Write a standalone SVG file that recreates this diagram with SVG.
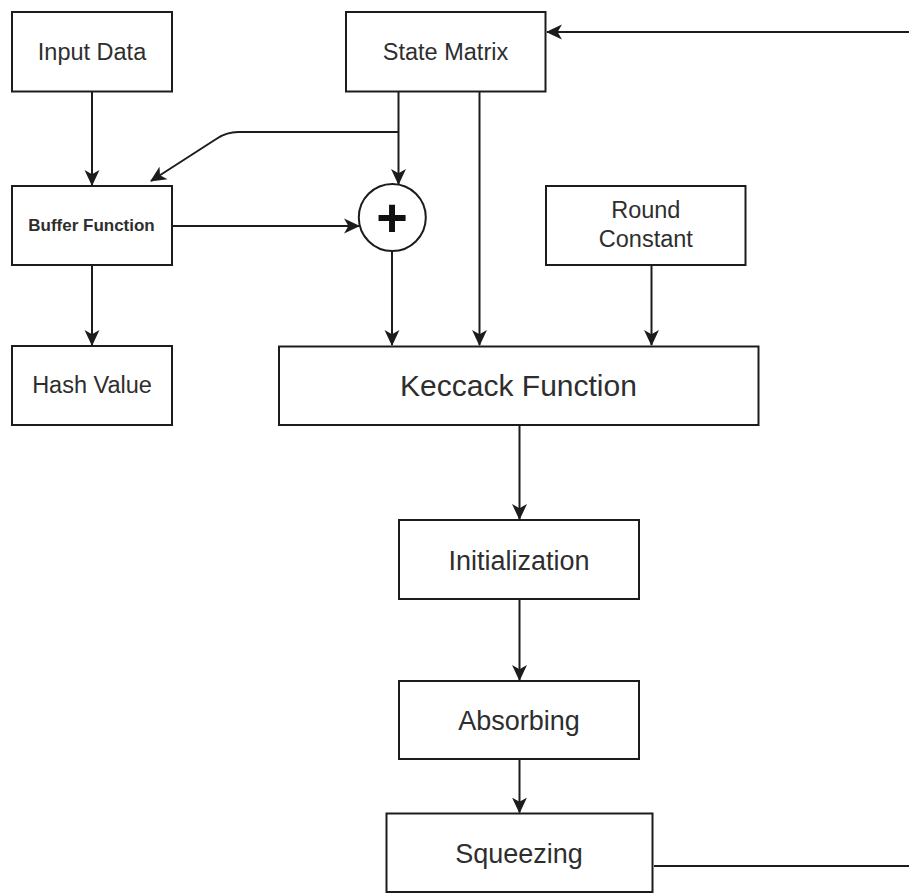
<svg xmlns="http://www.w3.org/2000/svg" width="909" height="894" viewBox="0 0 909 894">
  <style>
    .box { fill: #ffffff; stroke: #1c1c1c; stroke-width: 2; }
    .lbl { font-family: "Liberation Sans", Arial, sans-serif; fill: #2e2e2e; text-anchor: middle; }
    .s { font-size: 23.5px; }
    .m { font-size: 27px; }
    .l { font-size: 30px; }
    .b { font-size: 17px; font-weight: bold; }
    .edge { fill: none; stroke: #1c1c1c; stroke-width: 2; marker-end: url(#arrow); }
  </style>
  <defs>
    <marker id="arrow" markerUnits="userSpaceOnUse" markerWidth="16" markerHeight="16" viewBox="0 0 15 14" refX="14" refY="7" orient="auto">
      <path d="M0,0 L15,7 L0,14 L4,7 z" fill="#1c1c1c"/>
    </marker>
  </defs>
  <rect width="909" height="894" fill="#ffffff"/>

  <!-- connectors -->
  <g id="connectors">
    <path class="edge" d="M92,92 V185"/>
    <path class="edge" d="M92,266 V345"/>
    <path class="edge" d="M398.5,92 V184"/>
    <path class="edge" d="M398.5,132 H238 Q227,132 217,138.5 L151,181"/>
    <path class="edge" d="M173,226 H359"/>
    <path class="edge" d="M392,251 V345"/>
    <path class="edge" d="M479.5,92 V345"/>
    <path class="edge" d="M651.5,266 V345"/>
    <path class="edge" d="M519.5,426 V519"/>
    <path class="edge" d="M519.5,600 V680"/>
    <path class="edge" d="M519.5,760 V812.5"/>
    <path class="edge" d="M654,866 H916 V32 H547"/>
  </g>

  <g id="input-data">
    <rect class="box" x="12" y="12" width="160" height="79.5"/>
    <text class="lbl s" x="92" y="60">Input Data</text>
  </g>

  <g id="state-matrix">
    <rect class="box" x="346" y="12" width="199.5" height="79.5"/>
    <text class="lbl s" x="445.5" y="60">State Matrix</text>
  </g>

  <g id="buffer-function">
    <rect class="box" x="12" y="186" width="160" height="79"/>
    <text class="lbl b" x="91.5" y="231">Buffer Function</text>
  </g>

  <g id="xor">
    <circle class="box" cx="392.3" cy="217.5" r="33.5"/>
    <text class="lbl" x="392" y="236" style="font-size:54px;font-weight:bold;fill:#111">+</text>
  </g>

  <g id="round-constant">
    <rect class="box" x="546" y="186" width="199.5" height="79"/>
    <text class="lbl s" x="645.8" y="218">Round</text>
    <text class="lbl s" x="645.8" y="246.5">Constant</text>
  </g>

  <g id="hash-value">
    <rect class="box" x="12" y="346" width="160" height="79"/>
    <text class="lbl s" x="92" y="393">Hash Value</text>
  </g>

  <g id="keccack-function">
    <rect class="box" x="279" y="346.5" width="479.5" height="78.5"/>
    <text class="lbl l" x="518.5" y="395.5">Keccack Function</text>
  </g>

  <g id="initialization">
    <rect class="box" x="399" y="520" width="240" height="79"/>
    <text class="lbl m" x="519" y="569.5">Initialization</text>
  </g>

  <g id="absorbing">
    <rect class="box" x="399" y="681" width="240" height="78"/>
    <text class="lbl m" x="519" y="729.5">Absorbing</text>
  </g>

  <g id="squeezing">
    <rect class="box" x="386.5" y="813.5" width="266" height="78.5"/>
    <text class="lbl m" x="519" y="862.5">Squeezing</text>
  </g>
</svg>
